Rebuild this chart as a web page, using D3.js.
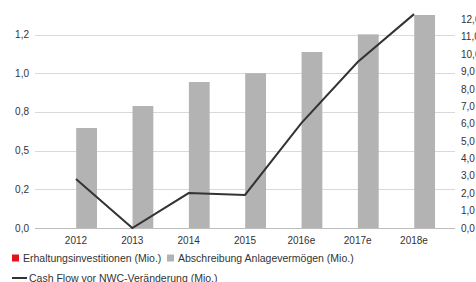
<!DOCTYPE html>
<html>
<head>
<meta charset="utf-8">
<script src="https://cdn.jsdelivr.net/npm/d3@7"></script>
<style>
  body { margin: 0; background: #fff; }
  text { font-family: "Liberation Sans", Arial, sans-serif; fill: #333; }
</style>
</head>
<body>
<script>
const width = 476;
const height = 282;

// Daten
const years = ["2012", "2013", "2014", "2015", "2016e", "2017e", "2018e"];
const erhaltung = [0, 0, 0, 0, 0, 0, 0];
const abschreibung = [0.646, 0.788, 0.943, 1.0, 1.137, 1.251, 1.376];
const cashFlow = [2.82, 0.0, 2.01, 1.9, 6.04, 9.55, 12.31];

const leftTicks = [0, 0.25, 0.5, 0.75, 1.0, 1.25];
const leftTickLabels = ["0,0", "0,2", "0,5", "0,8", "1,0", "1,2"];
const rightTicks = [0, 1, 2, 3, 4, 5, 6, 7, 8, 9, 10, 11, 12];

const seriesNames = ["Erhaltungsinvestitionen (Mio.)", "Abschreibung Anlagevermögen (Mio.)", "Cash Flow vor NWC-Veränderung (Mio.)"];
const colors = ["#e3141b", "#b3b3b3", "#333333"];

const svg = d3.select("body").append("svg")
  .attr("width", width)
  .attr("height", height);

const gridLeft = 35, gridRight = 455;

const x = d3.scaleBand()
  .domain(years)
  .range([47.8, 442.2]);

const xSub = d3.scaleBand()
  .domain([0, 1])
  .range([x.bandwidth() / 2 - 21, x.bandwidth() / 2 + 21])
  .paddingInner(0.02);

const yLeft = d3.scaleLinear().domain([0, 1.25]).range([228, 34.5]);
const yRight = d3.scaleLinear().domain([0, 12]).range([228, 19.5]);

// Gitterlinien
svg.selectAll(".grid")
  .data(leftTicks)
  .enter()
  .append("line")
  .attr("x1", gridLeft)
  .attr("x2", gridRight)
  .attr("y1", d => Math.round(yLeft(d)) + 0.5)
  .attr("y2", d => Math.round(yLeft(d)) + 0.5)
  .attr("stroke", (d, i) => i == 0 ? "#bdbdbd" : "#d9d9d9")
  .attr("stroke-width", 1);

// linke Achse
svg.selectAll(".lt")
  .data(leftTicks)
  .enter()
  .append("text")
  .attr("x", 29)
  .attr("y", d => yLeft(d))
  .attr("dy", "0.35em")
  .attr("text-anchor", "end")
  .attr("font-size", 10)
  .text((d, i) => leftTickLabels[i]);

// rechte Achse (im Original rechts abgeschnitten)
svg.selectAll(".rt")
  .data(rightTicks)
  .enter()
  .append("text")
  .attr("x", 461)
  .attr("y", d => yRight(d))
  .attr("dy", "0.35em")
  .attr("font-size", 10)
  .text(d => d + ",0");

// Balken
const groups = svg.selectAll(".grp")
  .data(years)
  .enter()
  .append("g")
  .attr("transform", d => "translate(" + x(d) + ",0)");

groups.append("rect")
  .attr("x", xSub(0))
  .attr("width", xSub.bandwidth())
  .attr("y", (d, i) => yLeft(erhaltung[i]))
  .attr("height", (d, i) => yLeft(0) - yLeft(erhaltung[i]))
  .attr("fill", colors[0]);

groups.append("rect")
  .attr("x", xSub(1))
  .attr("width", xSub.bandwidth())
  .attr("y", (d, i) => yLeft(abschreibung[i]))
  .attr("height", (d, i) => yLeft(0) - yLeft(abschreibung[i]))
  .attr("fill", colors[1]);

// x-Achse Beschriftung
svg.selectAll(".xl")
  .data(years)
  .enter()
  .append("text")
  .attr("x", d => x(d) + x.bandwidth() / 2)
  .attr("y", 244)
  .attr("text-anchor", "middle")
  .attr("font-size", 10)
  .text(d => d);

// Linie
const line = d3.line()
  .x((d, i) => x(years[i]) + x.bandwidth() / 2)
  .y(d => yRight(d));

svg.append("path")
  .datum(cashFlow)
  .attr("d", line)
  .attr("fill", "none")
  .attr("stroke", colors[2])
  .attr("stroke-width", 2);

// Legende
const leg1 = svg.append("g").attr("transform", "translate(12,258)");
leg1.append("rect").attr("x", 0).attr("y", -3.5).attr("width", 7).attr("height", 7).attr("fill", colors[0]);
leg1.append("text").attr("x", 11).attr("y", 0).attr("dy", "0.35em").attr("font-size", 10.5).text(seriesNames[0]);

const leg2 = svg.append("g").attr("transform", "translate(167,258)");
leg2.append("rect").attr("x", 0).attr("y", -3.5).attr("width", 7).attr("height", 7).attr("fill", colors[1]);
leg2.append("text").attr("x", 11).attr("y", 0).attr("dy", "0.35em").attr("font-size", 10.5).text(seriesNames[1]);

const leg3 = svg.append("g").attr("transform", "translate(12,278)");
leg3.append("line").attr("x1", 0).attr("x2", 15).attr("y1", 0).attr("y2", 0).attr("stroke", colors[2]).attr("stroke-width", 2);
leg3.append("text").attr("x", 17).attr("y", 0).attr("dy", "0.35em").attr("font-size", 10.5).text(seriesNames[2]);
</script>
</body>
</html>
